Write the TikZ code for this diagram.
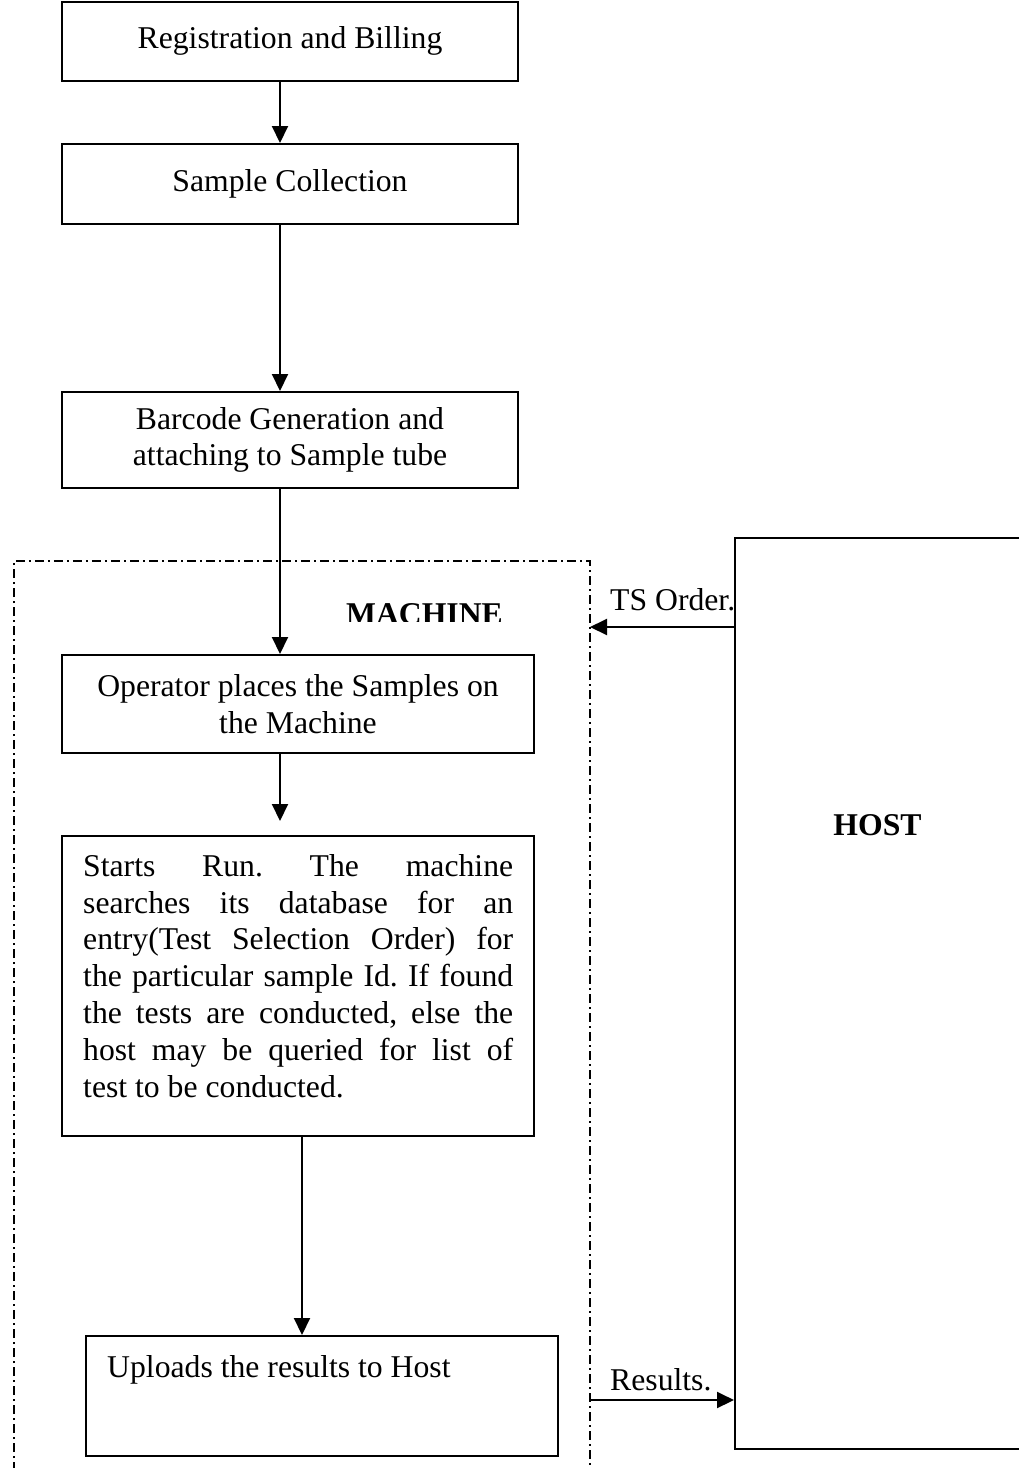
\documentclass[tikz,border=0pt]{standalone}
\usepackage{fontspec}
\setmainfont{Liberation Serif}
\usetikzlibrary{arrows.meta}
\frenchspacing
\begin{document}
\begin{tikzpicture}[x=1pt,y=-1pt,
  every node/.style={font=\fontsize{31.7}{36.8}\selectfont},
  box/.style={draw, line width=2pt, inner sep=0pt, align=center},
  arr/.style={line width=2pt, -{Triangle[length=17pt,width=16pt]}},
  lbl/.style={inner sep=0pt, anchor=base west},
  heading/.style={inner sep=0pt, anchor=base, font=\fontsize{31.7}{36.8}\selectfont\bfseries},
  zone/.style={line width=2pt, dash pattern=on 9pt off 4pt on 2pt off 4pt}]
\clip (0,0) rectangle (1019,1468);
\fill[white] (0,0) rectangle (1019,1468);

% helper columns and rows for the connectors
\coordinate (colA) at (280,0);
\coordinate (colB) at (302,0);
\coordinate (zoneR) at (590,0);
\coordinate (tsy) at (0,627);
\coordinate (resy) at (0,1400);

% machine boundary (dash-dot, open at the bottom)
\draw[zone] (14,1490) -- (14,561) -- (590,561) -- (590,1490);

% MACHINE caption, cut off at its lower edge
\begin{scope}
  \clip (330,590) rectangle (520,621);
  \node[heading] (mach) at (424.5,624) {MACHINE};
\end{scope}

% process steps
\node[box, minimum width=456pt, minimum height=79pt] (reg) at (290,41) {Registration and Billing};
\node[box, minimum width=456pt, minimum height=80pt] (samp) at (290,184) {Sample Collection};
\node[box, minimum width=456pt, minimum height=96pt] (bar) at (290,440) {Barcode Generation and\\attaching to Sample tube};
\node[box, minimum width=472pt, minimum height=98pt] (op) at (298,704) {Operator places the Samples on\\the Machine};
\node[box, minimum width=472pt, minimum height=300pt] (run) at (298,986) {};
\node[inner sep=0pt, anchor=north west, text width=430pt, align=justify] (runtxt) at (83,854)
  {Starts Run. The machine\linebreak searches its database for an\linebreak entry(Test Selection Order) for\linebreak the particular sample Id. If found\linebreak the tests are conducted, else the\linebreak host may be queried for list of\linebreak test to be conducted.};
\node[box, minimum width=472pt, minimum height=120pt] (up) at (322,1396) {};
\node[lbl] (uptxt) at (107,1377) {Uploads the results to Host};

% messages exchanged with the host
\node[lbl] (tstxt) at (610,610) {TS Order.};
\node[lbl] (restxt) at (610,1390) {Results.};

% host system
\node[draw, line width=2pt, fill=white, inner sep=0pt, anchor=north west,
      minimum width=320pt, minimum height=911pt] (host) at (734,537) {};
\node[heading] (hosttxt) at (877.5,835) {HOST};

% connectors
\draw[arr] (reg.south -| colA) -- (samp.north -| colA);
\draw[arr] (samp.south -| colA) -- (bar.north -| colA);
\draw[arr] (bar.south -| colA) -- (op.north -| colA);
\draw[arr, shorten >=14pt] (op.south -| colA) -- (run.north -| colA);
\draw[arr] (run.south -| colB) -- (up.north -| colB);
\draw[arr] (host.west |- tsy) -- (zoneR |- tsy);
\draw[arr] (zoneR |- resy) -- (host.west |- resy);
\end{tikzpicture}
\end{document}
